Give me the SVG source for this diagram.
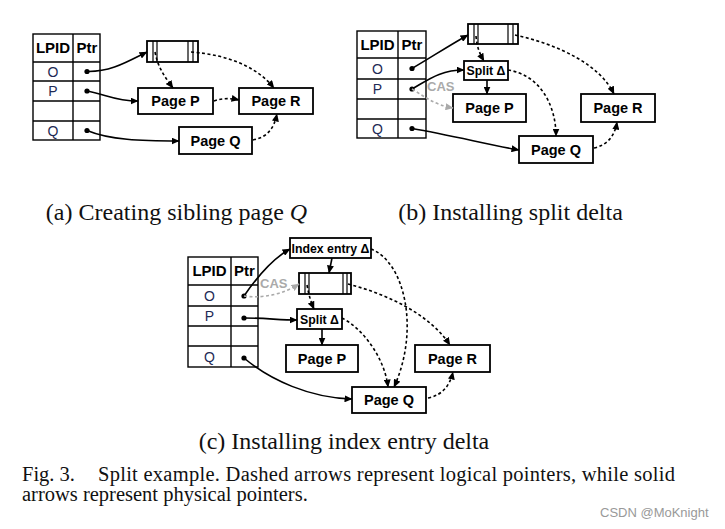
<svg xmlns="http://www.w3.org/2000/svg" width="725" height="529" viewBox="0 0 725 529">
<defs>
<marker id="ah" viewBox="0 0 8 7" refX="7.5" refY="3.5" markerWidth="8" markerHeight="7" markerUnits="userSpaceOnUse" orient="auto"><path d="M0,0 L8,3.5 L0,7 z" fill="#000"/></marker>
<marker id="ahg" viewBox="0 0 8 7" refX="7.5" refY="3.5" markerWidth="8" markerHeight="7" markerUnits="userSpaceOnUse" orient="auto"><path d="M0,0 L8,3.5 L0,7 z" fill="#aaa"/></marker>
<style>
.box{fill:#fff;stroke:#000;stroke-width:1.8}
.tb{fill:none;stroke:#000;stroke-width:1.4}
.in{stroke:#000;stroke-width:1.2}
.hd{font-family:"Liberation Sans",Arial,sans-serif;font-weight:bold;font-size:15px;text-anchor:middle;fill:#000}
.rl{font-family:"Liberation Sans",Arial,sans-serif;font-size:14px;text-anchor:middle;fill:#1e2a55}
.pg{font-family:"Liberation Sans",Arial,sans-serif;font-weight:bold;font-size:14.5px;text-anchor:middle;fill:#000}
.dl{font-family:"Liberation Sans",Arial,sans-serif;font-weight:bold;font-size:12.3px;text-anchor:middle;fill:#000}
.cas{font-family:"Liberation Sans",Arial,sans-serif;font-weight:bold;font-size:13px;fill:#aaa}
.dot{fill:#000}
.s{fill:none;stroke:#000;stroke-width:1.6;marker-end:url(#ah)}
.d{fill:none;stroke:#000;stroke-width:1.6;stroke-dasharray:3 2.5;marker-end:url(#ah)}
.g{fill:none;stroke:#aaa;stroke-width:1.6;stroke-dasharray:3 2.5;marker-end:url(#ahg)}
.cap{font-family:"Liberation Serif","Times New Roman",serif;font-size:24px;fill:#111;text-anchor:middle}
.fig{font-family:"Liberation Serif","Times New Roman",serif;font-size:20.5px;fill:#111}
.wm{font-family:"Liberation Sans",Arial,sans-serif;font-size:13px;fill:#999}
</style>
</defs>
<rect width="725" height="529" fill="#fff"/>

<!-- Panel a -->
<g id="a-table">
<rect class="tb" x="33" y="34" width="67" height="106"/>
<line class="tb" x1="73" y1="34" x2="73" y2="140"/>
<line class="tb" x1="33" y1="62" x2="100" y2="62"/>
<line class="tb" x1="33" y1="81" x2="100" y2="81"/>
<line class="tb" x1="33" y1="101" x2="100" y2="101"/>
<line class="tb" x1="33" y1="121" x2="100" y2="121"/>
<text class="hd" x="53" y="53">LPID</text><text class="hd" x="87" y="53">Ptr</text>
<text class="rl" x="53" y="76.5">O</text><text class="rl" x="53" y="96">P</text><text class="rl" x="53" y="135.5">Q</text>
<circle class="dot" cx="87" cy="71.5" r="2.6"/><circle class="dot" cx="87" cy="91" r="2.6"/><circle class="dot" cx="87" cy="130.5" r="2.6"/>
</g>
<g id="a-map">
<rect class="box" x="147" y="41" width="51" height="21"/>
<line class="in" x1="153" y1="41" x2="153" y2="62"/><line class="in" x1="157" y1="41" x2="157" y2="62"/>
<line class="in" x1="188" y1="41" x2="188" y2="62"/><line class="in" x1="193" y1="41" x2="193" y2="62"/>
</g>
<g id="a-pageP"><rect class="box" x="138" y="88" width="75" height="26"/><text class="pg" x="175.5" y="106">Page P</text></g>
<g id="a-pageR"><rect class="box" x="239" y="88" width="74" height="26"/><text class="pg" x="276" y="106">Page R</text></g>
<g id="a-pageQ"><rect class="box" x="179" y="127" width="73" height="27"/><text class="pg" x="215.5" y="145.5">Page Q</text></g>
<g id="a-connectors">
<path class="s" d="M87,71.5 C110,72 125,63 147,52"/>
<path class="s" d="M87,91 C105,94 115,101 138,101"/>
<path class="s" d="M87,130.5 C110,140 140,141 179,141"/>
<path class="d" d="M155,52 C158,68 165,77 173,88"/>
<path class="d" d="M191,52 C230,55 258,68 274,88"/>
<path class="d" d="M214,101 C222,98 230,98 239,100"/>
<path class="d" d="M253,140 C268,137 274,128 277,114"/>
</g>

<!-- Panel b -->
<g id="b-table">
<rect class="tb" x="357" y="31" width="69" height="107"/>
<line class="tb" x1="398" y1="31" x2="398" y2="138"/>
<line class="tb" x1="357" y1="58" x2="426" y2="58"/>
<line class="tb" x1="357" y1="79" x2="426" y2="79"/>
<line class="tb" x1="357" y1="99" x2="426" y2="99"/>
<line class="tb" x1="357" y1="119" x2="426" y2="119"/>
<text class="hd" x="377.5" y="50">LPID</text><text class="hd" x="412" y="50">Ptr</text>
<text class="rl" x="377.5" y="73.5">O</text><text class="rl" x="377.5" y="94">P</text><text class="rl" x="377.5" y="133.5">Q</text>
<circle class="dot" cx="412" cy="68.5" r="2.6"/><circle class="dot" cx="412" cy="89" r="2.6"/><circle class="dot" cx="412" cy="128.5" r="2.6"/>
</g>
<g id="b-map">
<rect class="box" x="468" y="24" width="50" height="20"/>
<line class="in" x1="474" y1="24" x2="474" y2="44"/><line class="in" x1="478" y1="24" x2="478" y2="44"/>
<line class="in" x1="508" y1="24" x2="508" y2="44"/><line class="in" x1="513" y1="24" x2="513" y2="44"/>
</g>
<g id="b-split"><rect class="box" x="464" y="61" width="44" height="19"/><text class="dl" x="486" y="75">Split Δ</text></g>
<g id="b-pageP"><rect class="box" x="453" y="94" width="73" height="28"/><text class="pg" x="489.5" y="113">Page P</text></g>
<g id="b-pageR"><rect class="box" x="581" y="94" width="74" height="28"/><text class="pg" x="618" y="113">Page R</text></g>
<g id="b-pageQ"><rect class="box" x="519" y="136" width="74" height="27"/><text class="pg" x="556" y="154.5">Page Q</text></g>
<g id="b-connectors">
<path class="s" d="M412,68.5 C430,58 450,45 468,35"/>
<path class="s" d="M412,89 C428,80 440,70 464,70"/>
<path class="g" d="M412,89 C425,97 435,105 453,108"/>
<text class="cas" x="427" y="91">CAS</text>
<path class="d" d="M476,36 C477,48 480,54 484,61"/>
<path class="s" d="M487,80 L487,94"/>
<path class="d" d="M515,35 C560,45 600,65 614,94"/>
<path class="d" d="M508,70 C540,75 556,105 556,136"/>
<path class="s" d="M412,128.5 C450,135 490,145 519,150"/>
<path class="d" d="M594,148 C608,145 615,135 617,122"/>
</g>

<!-- Panel c -->
<g id="c-table">
<rect class="tb" x="188" y="257" width="70" height="110"/>
<line class="tb" x1="231" y1="257" x2="231" y2="367"/>
<line class="tb" x1="188" y1="285" x2="258" y2="285"/>
<line class="tb" x1="188" y1="306" x2="258" y2="306"/>
<line class="tb" x1="188" y1="326" x2="258" y2="326"/>
<line class="tb" x1="188" y1="346" x2="258" y2="346"/>
<text class="hd" x="209.5" y="276">LPID</text><text class="hd" x="244.5" y="276">Ptr</text>
<text class="rl" x="209.5" y="300.5">O</text><text class="rl" x="209.5" y="321">P</text><text class="rl" x="209.5" y="361.5">Q</text>
<circle class="dot" cx="244" cy="296" r="2.6"/><circle class="dot" cx="244" cy="318" r="2.6"/><circle class="dot" cx="244" cy="358" r="2.6"/>
</g>
<g id="c-index"><rect class="box" x="290" y="238" width="81" height="20"/><text class="dl" x="330.5" y="252.5">Index entry Δ</text></g>
<g id="c-map">
<rect class="box" x="299" y="273" width="52" height="21"/>
<line class="in" x1="305" y1="273" x2="305" y2="294"/><line class="in" x1="309" y1="273" x2="309" y2="294"/>
<line class="in" x1="343" y1="273" x2="343" y2="294"/><line class="in" x1="347" y1="273" x2="347" y2="294"/>
</g>
<g id="c-split"><rect class="box" x="297" y="309" width="45" height="20"/><text class="dl" x="319.5" y="323.5">Split Δ</text></g>
<g id="c-pageP"><rect class="box" x="286" y="345" width="72" height="27"/><text class="pg" x="322" y="363.5">Page P</text></g>
<g id="c-pageR"><rect class="box" x="415" y="345" width="75" height="27"/><text class="pg" x="452.5" y="363.5">Page R</text></g>
<g id="c-pageQ"><rect class="box" x="352" y="387" width="74" height="26"/><text class="pg" x="389" y="405">Page Q</text></g>
<g id="c-connectors">
<path class="s" d="M244,296 C255,280 270,260 290,249"/>
<path class="g" d="M244,296 C265,299 285,293 299,284"/>
<text class="cas" x="260" y="288">CAS</text>
<path class="s" d="M332,258 L329,273"/>
<path class="d" d="M307,285 C309,296 311,302 314,309"/>
<path class="d" d="M348,284 C390,295 430,315 450,345"/>
<path class="s" d="M244,318 C265,318 280,320 297,320"/>
<path class="s" d="M322,329 L322,345"/>
<path class="d" d="M342,318 C365,330 385,360 388,387"/>
<path class="d" d="M371,249 C405,262 420,330 394,387"/>
<path class="s" d="M244,358 C270,380 310,398 352,399"/>
<path class="d" d="M428,398 C443,395 450,385 453,372"/>
</g>

<!-- Captions -->
<text class="cap" x="176.5" y="220">(a) Creating sibling page <tspan font-style="italic">Q</tspan></text>
<text class="cap" x="510.5" y="220">(b) Installing split delta</text>
<text class="cap" x="344" y="449">(c) Installing index entry delta</text>
<text class="fig" x="22" y="481">Fig. 3.</text>
<text class="fig" x="98" y="481" textLength="577" lengthAdjust="spacing">Split example. Dashed arrows represent logical pointers, while solid</text>
<text class="fig" x="22" y="501">arrows represent physical pointers.</text>
<text class="wm" x="600" y="517">CSDN @MoKnight</text>
</svg>
